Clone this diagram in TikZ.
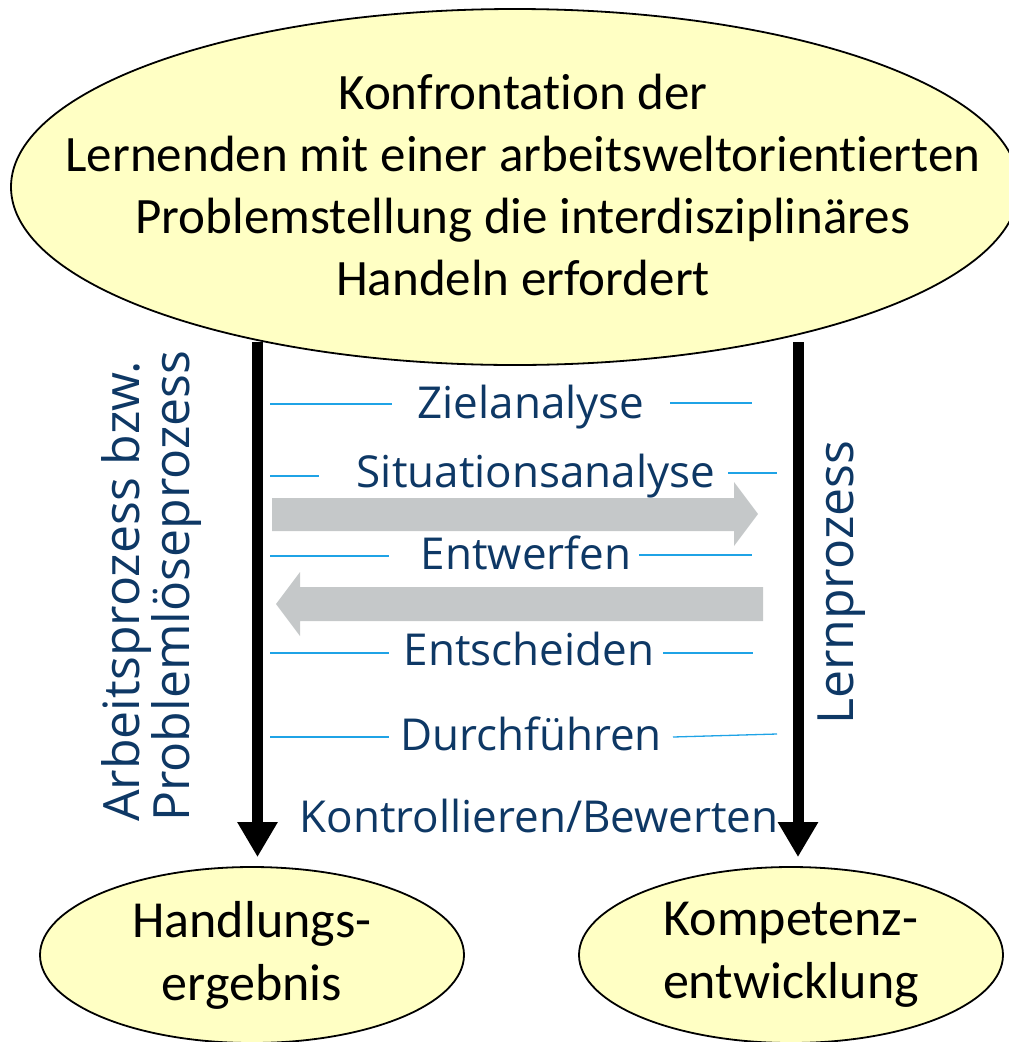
\documentclass[tikz,border=0pt]{standalone}
\usepackage{fontspec}
\setmainfont{Carlito}[RawFeature={-liga;-clig;-dlig;-calt}]
\newfontfamily\stepfont{Open Sans}
\usepackage{tikz}
\usetikzlibrary{shapes, arrows.meta, positioning}
\definecolor{bubblefill}{HTML}{FFFFC4}
\definecolor{stepblue}{HTML}{0E3865}
\definecolor{rulecol}{HTML}{1FA3E6}
\definecolor{shadecol}{HTML}{C5C8C9}
\tikzstyle{bubble}=[draw,ellipse,fill=bubblefill,line width=1.8pt,inner sep=0pt,align=center]
\tikzstyle{stepl}=[text=stepblue,font=\stepfont\fontsize{44}{50}\selectfont,anchor=base,inner sep=0pt]
\tikzstyle{proc}=[text=stepblue,font=\stepfont\fontsize{50}{50}\selectfont,rotate=90,inner sep=0pt]
\tikzstyle{rule}=[draw=rulecol,line width=1.3pt]
\tikzstyle{flow}=[draw=black,line width=11pt,-{Triangle[width=38pt,length=35pt]}]
\tikzstyle{shade}=[fill=shadecol]

\begin{document}
\begin{tikzpicture}[x=1pt,y=-1pt]
    \useasboundingbox (0,0) rectangle (1009,1042);
    % top problem
    \node[bubble, minimum width=1008pt, minimum height=356pt] (taskshape) at (515,187) {};
    \node[inner sep=0pt, align=center, font=\fontsize{51}{61.7}\selectfont] (task) at (523,185)
        {Konfrontation der\\Lernenden mit einer arbeitsweltorientierten\\Problemstellung die interdisziplinäres\\Handeln erfordert};
    % results
    \node[bubble, minimum width=424pt, minimum height=176pt, font=\fontsize{52}{63}\selectfont] (res) at (252,955) {Handlungs-\\ergebnis};
    \node[bubble, minimum width=424pt, minimum height=176pt, font=\fontsize{52}{63}\selectfont] (comp) at (791,955) {Kompetenz-\\entwicklung};
    % steps
    \node[stepl] (ziel) at (531,418) {Zielanalyse};
    \node[stepl] (situ) at (536,487) {Situationsanalyse};
    \node[stepl] (entw) at (526,569) {Entwerfen};
    \node[stepl] (ents) at (529,665) {Entscheiden};
    \node[stepl] (durch) at (531,750) {Durchführen};
    \node[stepl] (kontr) at (539,832) {Kontrollieren/Bewerten};
    \draw[rule] (270,404) -- (392,404);
    \draw[rule] (670,403) -- (752,403);
    \draw[rule] (270,476) -- (319,476);
    \draw[rule] (728,473) -- (777,473);
    \draw[rule] (270,556) -- (389,556);
    \draw[rule] (639,555) -- (752,555);
    \draw[rule] (270,653) -- (389,653);
    \draw[rule] (663,653) -- (753,653);
    \draw[rule] (270,737) -- (389,737);
    \draw[rule] (673,737) -- (777,734);
    % back and forth
    \fill[shade] (272,498) -- (734,498) -- (734,482) -- (758,514) -- (734,546) -- (734,531) -- (272,531) -- cycle;
    \fill[shade] (763,587) -- (300,587) -- (300,572) -- (276,604) -- (300,636) -- (300,621) -- (763,621) -- cycle;
    % processes
    \node[proc, align=left, anchor=north west] (arb) at (101,822) {Arbeitsprozess bzw.\\Problemlöseprozess};
    \node[proc, anchor=base west] (lern) at (853,725) {Lernprozess};
    \coordinate (arbtop) at (257.5,342);
    \coordinate (lerntop) at (798,342);
    \draw[flow, shorten >=9pt] (arbtop) -- (arbtop |- res.north);
    \draw[flow, shorten >=9pt] (lerntop) -- (lerntop |- comp.north);
\end{tikzpicture}
\end{document}
